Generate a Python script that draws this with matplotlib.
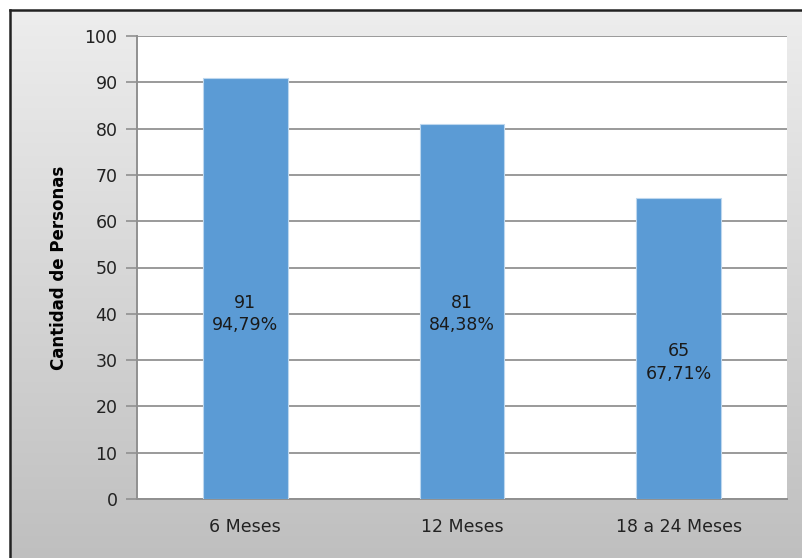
import numpy as np
import matplotlib
matplotlib.use('Agg')
import matplotlib.pyplot as plt

# Datos del gráfico
categorias = ['6 Meses', '12 Meses', '18 a 24 Meses']
personas = [91, 81, 65]
porcentajes = ['94,79%', '84,38%', '67,71%']
yticks = list(range(0, 101, 10))

W, H = 802, 558
fig = plt.figure(figsize=(W / 100, H / 100), dpi=100)
fig.patch.set_facecolor('white')

# Fondo con degradado gris (marco del gráfico de Excel)
bg = fig.add_axes([10 / W, 0, 1 - 10 / W, 1 - 10 / H])
grad = np.linspace(0.93, 0.75, 256).reshape(-1, 1)
bg.imshow(np.dstack([grad, grad, grad]), aspect='auto', extent=[0, 1, 0, 1])
bg.set_xlim(0, 1)
bg.set_ylim(0, 1)
bg.set_xticks([])
bg.set_yticks([])
for side in ['right', 'bottom']:
    bg.spines[side].set_visible(False)
for side in ['left', 'top']:
    bg.spines[side].set_color('#222222')
    bg.spines[side].set_linewidth(1.8)

# Área de trazado
left, right, top, bottom = 137, 787, 36, 499
ax = fig.add_axes([left / W, 1 - bottom / H, (right - left) / W, (bottom - top) / H])
ax.set_facecolor('white')

x = np.arange(len(categorias))
ax.bar(x, personas, width=0.39, color='#5B9BD5', edgecolor='#BDD7EE', linewidth=0.8, zorder=3)

# Etiquetas dentro de las barras
label_y = [40, 40, 29.5]
for xi, n, p, ly in zip(x, personas, porcentajes, label_y):
    ax.text(xi, ly, f'{n}\n{p}', ha='center', va='center', fontsize=12.5,
            color='#1a1a1a', linespacing=1.3, zorder=4)

ax.set_xlim(-0.5, len(categorias) - 0.5)
ax.set_ylim(0, 100)
ax.set_yticks(yticks)
ax.set_xticks(x)
ax.set_xticklabels(categorias, fontsize=12.5, color='#222222')
ax.tick_params(axis='y', length=8, width=1.2, color='#909090', labelsize=12.5,
               labelcolor='#222222', pad=6)
ax.tick_params(axis='x', length=0, pad=14)
ax.grid(axis='y', color='#9a9a9a', linewidth=1.4, zorder=1)

for side in ['top', 'right']:
    ax.spines[side].set_visible(False)
for side in ['left', 'bottom']:
    ax.spines[side].set_color('#909090')
    ax.spines[side].set_linewidth(1.4)

ax.set_ylabel('Cantidad de Personas', fontsize=12, fontweight='bold', labelpad=12)

fig.savefig('out.png', dpi=100)
